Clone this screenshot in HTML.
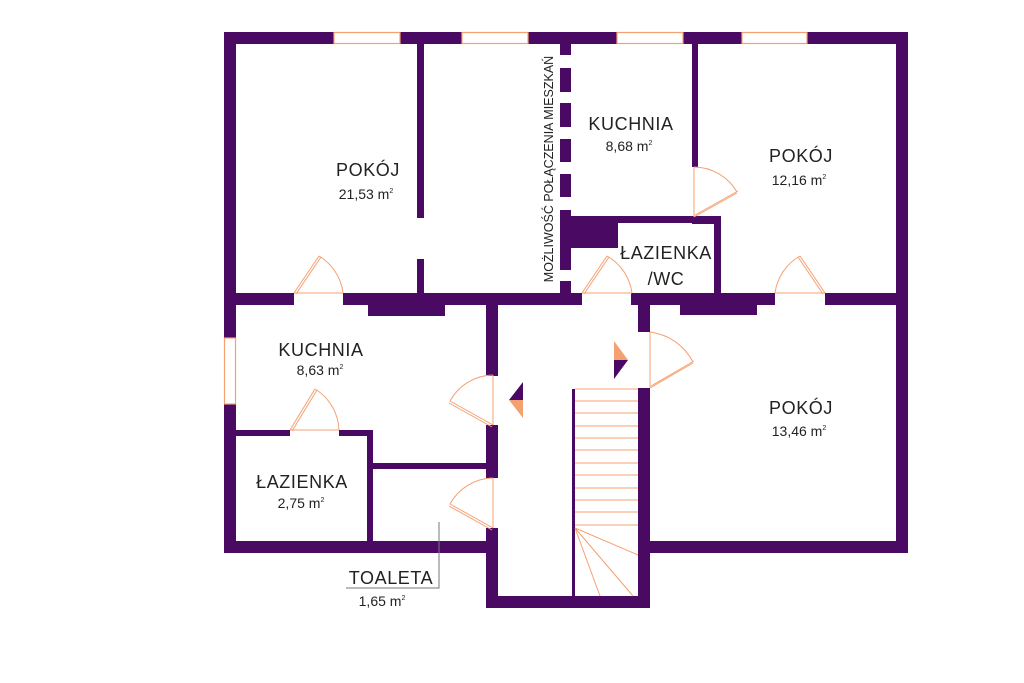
<!DOCTYPE html>
<html><head><meta charset="utf-8"><style>
html,body{margin:0;padding:0;background:#fff;}
svg{display:block;}
text{font-family:"Liberation Sans",sans-serif;fill:#222;}
</style></head><body>
<svg width="1024" height="683" viewBox="0 0 1024 683" xmlns="http://www.w3.org/2000/svg">
<g fill="#4a0a63">
<rect x="224" y="32" width="684" height="12"/>
<rect x="224" y="32" width="12" height="521"/>
<rect x="896" y="32" width="12" height="521"/>
<rect x="224" y="541" width="274" height="12"/>
<rect x="638" y="541" width="270" height="12"/>
<rect x="486" y="596" width="164" height="12"/>
<rect x="224" y="293" width="70" height="12"/>
<rect x="343" y="293" width="239" height="12"/>
<rect x="631" y="293" width="144" height="12"/>
<rect x="825" y="293" width="83" height="12"/>
<rect x="368" y="305" width="77" height="11"/>
<rect x="680" y="305" width="77" height="10"/>
<rect x="417" y="44" width="7" height="174"/>
<rect x="417" y="259" width="7" height="34"/>
<rect x="560" y="44" width="11" height="11"/>
<rect x="560" y="68" width="11" height="24"/>
<rect x="560" y="103" width="11" height="24"/>
<rect x="560" y="139" width="11" height="23"/>
<rect x="560" y="174" width="11" height="23"/>
<rect x="560" y="210" width="11" height="60"/>
<rect x="560" y="281" width="11" height="12"/>
<rect x="560" y="218" width="58" height="30"/>
<rect x="571" y="216" width="127" height="7"/>
<rect x="692" y="44" width="6" height="123"/>
<rect x="692" y="216" width="29" height="8"/>
<rect x="714" y="216" width="7" height="77"/>
<rect x="486" y="303" width="12" height="73"/>
<rect x="486" y="425" width="12" height="53"/>
<rect x="486" y="528" width="12" height="80"/>
<rect x="638" y="303" width="12" height="29"/>
<rect x="638" y="388" width="12" height="220"/>
<rect x="572" y="389" width="3" height="207"/>
<rect x="236" y="430" width="54" height="6"/>
<rect x="339" y="430" width="34" height="6"/>
<rect x="367" y="430" width="6" height="111"/>
<rect x="373" y="463" width="113" height="6"/>
</g>
<g fill="#fff" stroke="#f5a070" stroke-width="1.2">
<rect x="334" y="32.5" width="66" height="11"/>
<rect x="462" y="32.5" width="66" height="11"/>
<rect x="617" y="32.5" width="66" height="11"/>
<rect x="742" y="32.5" width="65" height="11"/>
<rect x="224.5" y="338" width="11" height="66"/>
</g>
<g fill="none" stroke="#f5a070" stroke-width="1">
<path d="M294 293 L319 256 M296 294 L321 257 M319 256 A50 50 0 0 1 343 293 M294 293 H343"/>
<path d="M582 293 L607 256 M584 294 L609 257 M607 256 A50 50 0 0 1 632 293 M582 293 H632"/>
<path d="M825 293 L800 256 M823 294 L798 257 M800 256 A50 50 0 0 0 775 293 M775 293 H825"/>
<path d="M290 430 L315 389 M292 431 L317 390 M315 389 A50 50 0 0 1 339 430 M290 430 H339"/>
<path d="M694 217 L737 193 M695 215 L738 191 M737 192 A50 50 0 0 0 694 167 M694 167 V217"/>
<path d="M650 388 L693 363 M651 386 L694 361 M693 362 A56 56 0 0 0 650 332 M650 332 V388"/>
<path d="M493 425 L450 401 M492 427 L449 403 M450 401 A50 50 0 0 1 493 375 M493 375 V425"/>
<path d="M493 528 L450 504 M492 530 L449 506 M450 504 A50 50 0 0 1 493 478 M493 478 V528"/>
<path d="M575 389H638M575 401H638M575 413H638M575 426H638M575 438H638M575 450H638M575 463H638M575 475H638M575 488H638M575 500H638M575 512H638M575 525H638"/>
<path d="M575 528L638 555M575 528L633 596M575 528L600 596"/>
</g>
<polygon points="523,382 509,400 523,400" fill="#4a0a63"/>
<polygon points="509,400 523,400 523,418" fill="#f5a070"/>
<polygon points="614,341 628,360 614,360" fill="#f5a070"/>
<polygon points="614,360 628,360 614,379" fill="#4a0a63"/>
<path d="M439 522 V588 H346" fill="none" stroke="#777" stroke-width="1"/>
<g text-anchor="middle">
<g font-size="18" letter-spacing="0.6">
<text x="368" y="176">POKÓJ</text>
<text x="631" y="130">KUCHNIA</text>
<text x="801" y="162">POKÓJ</text>
<text x="666" y="259">ŁAZIENKA</text>
<text x="666" y="285">/WC</text>
<text x="321" y="356">KUCHNIA</text>
<text x="801" y="414">POKÓJ</text>
<text x="302" y="488">ŁAZIENKA</text>
<text x="391" y="584">TOALETA</text>
</g>
<g font-size="14">
<text x="366" y="199">21,53 m<tspan font-size="7" dy="-6">2</tspan></text>
<text x="629" y="151">8,68 m<tspan font-size="7" dy="-6">2</tspan></text>
<text x="799" y="185">12,16 m<tspan font-size="7" dy="-6">2</tspan></text>
<text x="320" y="375">8,63 m<tspan font-size="7" dy="-6">2</tspan></text>
<text x="799" y="436">13,46 m<tspan font-size="7" dy="-6">2</tspan></text>
<text x="301" y="508">2,75 m<tspan font-size="7" dy="-6">2</tspan></text>
<text x="382" y="606">1,65 m<tspan font-size="7" dy="-6">2</tspan></text>
</g>
<text transform="translate(553,169) rotate(-90)" font-size="12.5">MOŻLIWOŚĆ POŁĄCZENIA MIESZKAŃ</text>
</g>
</svg>
</body></html>
